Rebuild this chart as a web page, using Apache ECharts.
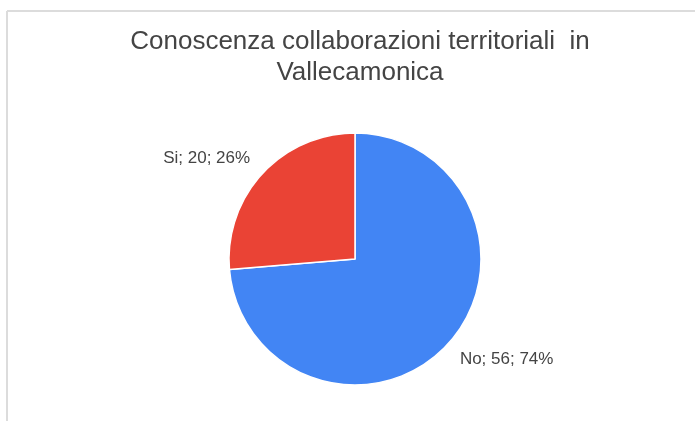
<!DOCTYPE html>
<html>
<head>
<meta charset="utf-8">
<script src="https://cdn.jsdelivr.net/npm/echarts@6/dist/echarts.min.js"></script>
<style>
  html, body { margin: 0; padding: 0; background: #fff; }
  #chart { width: 695px; height: 421px; }
</style>
</head>
<body>
<div id="chart"></div>
<script>
// dati del grafico
var categories = ["No", "Si"];
var values = [56, 20];
var colors = ["#4285F4", "#EA4335"];

var total = values.reduce(function (a, b) { return a + b; }, 0);
var pieData = [];
for (var i = 0; i < categories.length; i++) {
  pieData.push({ name: categories[i], value: values[i], itemStyle: { color: colors[i] } });
}

var myChart = echarts.init(document.getElementById("chart"));
myChart.setOption({
  backgroundColor: "#fff",
  animation: false,
  title: {
    text: "Conoscenza collaborazioni territoriali  in\nVallecamonica",
    left: 355,
    textAlign: "center",
    top: 21,
    textStyle: {
      fontFamily: "Liberation Sans, Arial, sans-serif",
      fontWeight: "normal",
      fontSize: 26,
      lineHeight: 31,
      color: "#444"
    }
  },
  graphic: [
    { type: "line", shape: { x1: 7, y1: 11, x2: 695, y2: 11 }, style: { stroke: "#dcdcdc", lineWidth: 2 } },
    { type: "line", shape: { x1: 7, y1: 11, x2: 7, y2: 421 }, style: { stroke: "#dcdcdc", lineWidth: 2 } }
  ],
  series: [{
    type: "pie",
    center: [355, 259],
    radius: 126,
    startAngle: 90,
    clockwise: true,
    avoidLabelOverlap: false,
    itemStyle: { borderColor: "#fff", borderWidth: 1.5 },
    label: {
      position: "outside",
      fontFamily: "Liberation Sans, Arial, sans-serif",
      fontSize: 17,
      color: "#444",
      distanceToLabelLine: -4,
      formatter: function (p) {
        return p.name + "; " + p.value + "; " + Math.round(p.value / total * 100) + "%";
      }
    },
    labelLine: { show: false, length: 22, length2: 0 },
    emphasis: { disabled: true },
    data: pieData
  }]
});
</script>
</body>
</html>
